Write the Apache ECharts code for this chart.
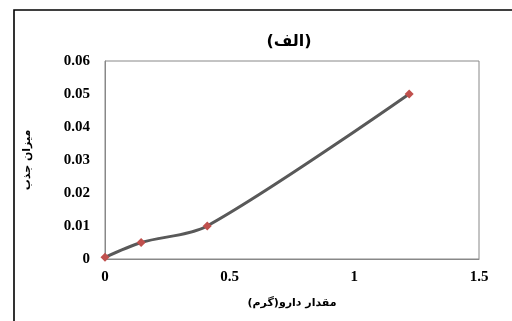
<!DOCTYPE html>
<html><head><meta charset="utf-8">
<script src="https://cdn.jsdelivr.net/npm/echarts@6/dist/echarts.min.js"></script>
<style>html,body{margin:0;padding:0;background:#fff}#c{width:512px;height:321px}</style>
</head><body><div id="c"></div>
<script>
const doseX = [0, 0.145, 0.41, 1.22];
const absorbY = [0.0005, 0.005, 0.01, 0.05];
const xTicks = [0, 0.5, 1, 1.5];
const yTicks = [0, 0.01, 0.02, 0.03, 0.04, 0.05, 0.06];
const titleText = '(الف)';
const xName = 'مقدار دارو(گرم)';
const yName = 'میزان جذب';

const chart = echarts.init(document.getElementById('c'), null, {renderer: 'canvas'});
const lbl = {fontFamily: 'Liberation Serif', fontWeight: 'bold', fontSize: 15, color: '#000'};
chart.setOption({
  animation: false,
  title: {text: titleText, left: 284, top: 29, textAlign: 'center',
    textStyle: {fontFamily: 'DejaVu Sans', fontWeight: 'bold', fontSize: 16, color: '#000'}},
  graphic: [{type: 'rect', shape: {x: 14, y: 10, width: 520, height: 330},
    style: {fill: 'none', stroke: '#000', lineWidth: 1.6}, z: 100}],
  grid: {left: 105, top: 61, width: 374, height: 198, show: true, borderColor: '#888', borderWidth: 1, backgroundColor: 'transparent'},
  xAxis: {type: 'value', min: 0, max: 1.5, interval: 0.5,
    axisLine: {show: true, lineStyle: {color: '#888'}}, axisTick: {show: false}, splitLine: {show: false},
    axisLabel: Object.assign({margin: 11, formatter: v => String(v)}, lbl),
    name: xName, nameLocation: 'middle', nameGap: 39,
    nameTextStyle: {fontFamily: 'DejaVu Sans', fontWeight: 'bold', fontSize: 11, color: '#000'}},
  yAxis: {type: 'value', min: 0, max: 0.06, interval: 0.01,
    axisLine: {show: true, lineStyle: {color: '#888'}}, axisTick: {show: false}, splitLine: {show: false},
    axisLabel: Object.assign({margin: 15, formatter: v => String(+v.toFixed(2))}, lbl),
    name: yName, nameLocation: 'middle', nameGap: 72, nameRotate: 90,
    nameTextStyle: {fontFamily: 'DejaVu Sans', fontWeight: 'bold', fontSize: 11, color: '#000'}},
  series: [{type: 'line', smooth: 0.3, data: doseX.map((x, i) => [x, absorbY[i]]),
    lineStyle: {color: '#595959', width: 3}, symbol: 'diamond', symbolSize: 9,
    itemStyle: {color: '#c0504d'}, z: 3}]
});
</script></body></html>
